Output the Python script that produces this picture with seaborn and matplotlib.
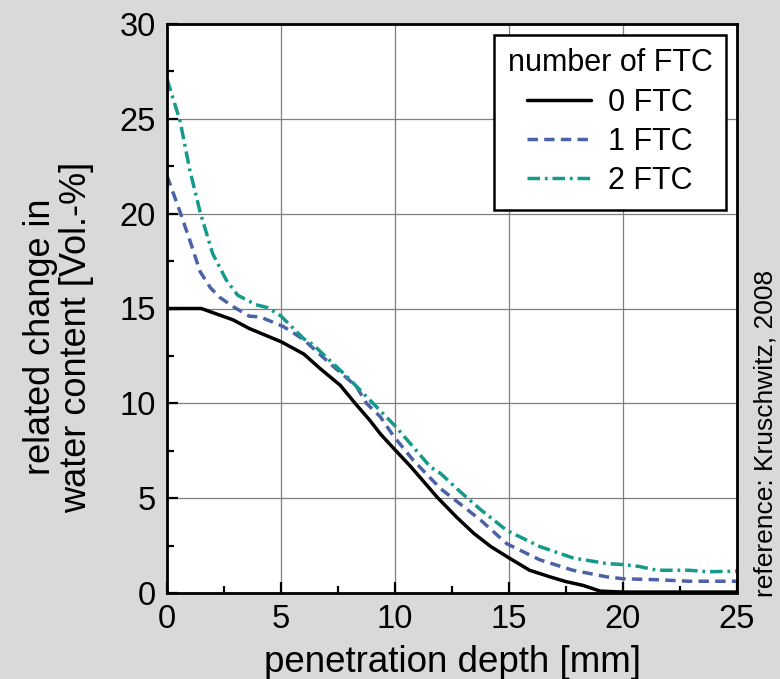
import numpy as np
import pandas as pd
import matplotlib
matplotlib.use("Agg")
import matplotlib.pyplot as plt
import seaborn as sns

# ---- data ----
x_ftc0 = [0.0, 1.5, 2.9, 3.6, 5.0, 6.0, 6.7, 7.6, 8.25, 8.9, 9.35, 10.0, 10.7, 11.85, 12.7, 13.45, 14.2, 15.0, 15.9, 16.8, 17.5, 18.25, 19.0, 20.0, 22.0, 25.0]
y_ftc0 = [15.0, 15.0, 14.4, 13.95, 13.25, 12.6, 11.85, 10.95, 10.0, 9.1, 8.4, 7.55, 6.65, 5.05, 4.0, 3.15, 2.45, 1.85, 1.2, 0.85, 0.6, 0.4, 0.1, 0.05, 0.05, 0.05]

x_ftc1 = [0.0, 0.57, 1.0, 1.45, 1.9, 2.3, 2.9, 3.6, 4.1, 5.1, 5.5, 6.0, 7.15, 8.3, 8.75, 9.35, 9.95, 10.8, 12.0, 12.85, 13.75, 14.9, 16.35, 17.8, 19.3, 20.0, 21.5, 22.9, 25.0]
y_ftc1 = [22.0, 20.1, 18.6, 16.95, 16.1, 15.6, 15.1, 14.6, 14.55, 14.05, 13.75, 13.35, 12.1, 10.9, 10.0, 9.3, 8.25, 7.0, 5.5, 4.7, 3.85, 2.6, 1.75, 1.2, 0.85, 0.75, 0.7, 0.62, 0.62]

x_ftc2 = [0.0, 0.57, 1.0, 1.45, 2.0, 2.6, 3.1, 3.9, 4.4, 5.0, 6.0, 6.4, 7.9, 9.2, 10.05, 11.55, 12.0, 12.85, 13.75, 14.9, 16.35, 17.8, 19.3, 20.0, 20.7, 21.5, 22.9, 23.7, 25.0]
y_ftc2 = [27.1, 24.9, 22.3, 20.1, 17.9, 16.5, 15.7, 15.2, 15.05, 14.6, 13.4, 13.1, 11.4, 9.8, 8.75, 6.65, 6.3, 5.35, 4.4, 3.3, 2.45, 1.85, 1.55, 1.5, 1.4, 1.2, 1.2, 1.12, 1.15]

series_names = ["0 FTC", "1 FTC", "2 FTC"]
x_ticks = [0, 5, 10, 15, 20, 25]
y_ticks = [0, 5, 10, 15, 20, 25, 30]

df = pd.concat([
    pd.DataFrame({"depth": x_ftc0, "value": y_ftc0, "series": series_names[0]}),
    pd.DataFrame({"depth": x_ftc1, "value": y_ftc1, "series": series_names[1]}),
    pd.DataFrame({"depth": x_ftc2, "value": y_ftc2, "series": series_names[2]}),
], ignore_index=True)

# ---- style ----
sns.set_style("ticks")
bg = "#d9d9d9"
plt.rcParams["font.family"] = ["Liberation Sans", "DejaVu Sans"]
plt.rcParams["text.color"] = "black"
plt.rcParams["axes.labelcolor"] = "black"
plt.rcParams["xtick.color"] = "black"
plt.rcParams["ytick.color"] = "black"

colors = {"0 FTC": "#000000", "1 FTC": "#4b62a8", "2 FTC": "#149a8a"}
dashes = {"0 FTC": "", "1 FTC": (3.0, 1.8), "2 FTC": (3.6, 1.4, 0.8, 1.4)}

fig = plt.figure(figsize=(7.8, 6.79), dpi=100, facecolor=bg)
ax = fig.add_axes([167 / 780, 1 - 593 / 679, 570 / 780, 569 / 679])
ax.set_facecolor("white")

sns.lineplot(data=df, x="depth", y="value", hue="series", style="series",
             palette=colors, dashes=dashes, linewidth=2.5, ax=ax,
             estimator=None, sort=False)

ax.set_xlim(0, 25)
ax.set_ylim(0, 30)
ax.set_xticks(x_ticks)
ax.set_yticks(y_ticks)
ax.set_xticks(np.arange(2.5, 25, 5), minor=True)
ax.set_yticks(np.arange(2.5, 30, 5), minor=True)
ax.grid(True, which="major", color="#7f7f7f", linewidth=0.9)
ax.set_axisbelow(True)

for s in ax.spines.values():
    s.set_visible(True)
    s.set_linewidth(2.0)
    s.set_color("black")

ax.tick_params(which="major", direction="in", length=8, width=1.6, labelsize=23.5, pad=8)
ax.tick_params(which="minor", direction="in", length=5, width=1.6)
ax.tick_params(top=False, right=False, which="both")

ax.set_xlabel("penetration depth [mm]", fontsize=26.5, labelpad=7)
ax.set_ylabel("related change in\nwater content [Vol.-%]", fontsize=26, linespacing=1.05)
ax.yaxis.set_label_coords((94 - 167) / 570, (593 - 337) / 569)

leg = ax.legend(title="number of FTC", loc="upper right", fontsize=22, title_fontsize=22,
                frameon=True, fancybox=False, edgecolor="black", framealpha=1,
                handlelength=2.1, handletextpad=0.55, labelspacing=0.3,
                borderaxespad=0.35, borderpad=0.45)
leg.get_frame().set_linewidth(1.8)
for h in leg.get_lines():
    h.set_linewidth(2.5)

fig.text(765 / 780, 1 - 597 / 679, "reference: Kruschwitz, 2008", rotation=90,
         ha="center", va="bottom", fontsize=19)

fig.savefig("out.png", dpi=100, facecolor=bg)
